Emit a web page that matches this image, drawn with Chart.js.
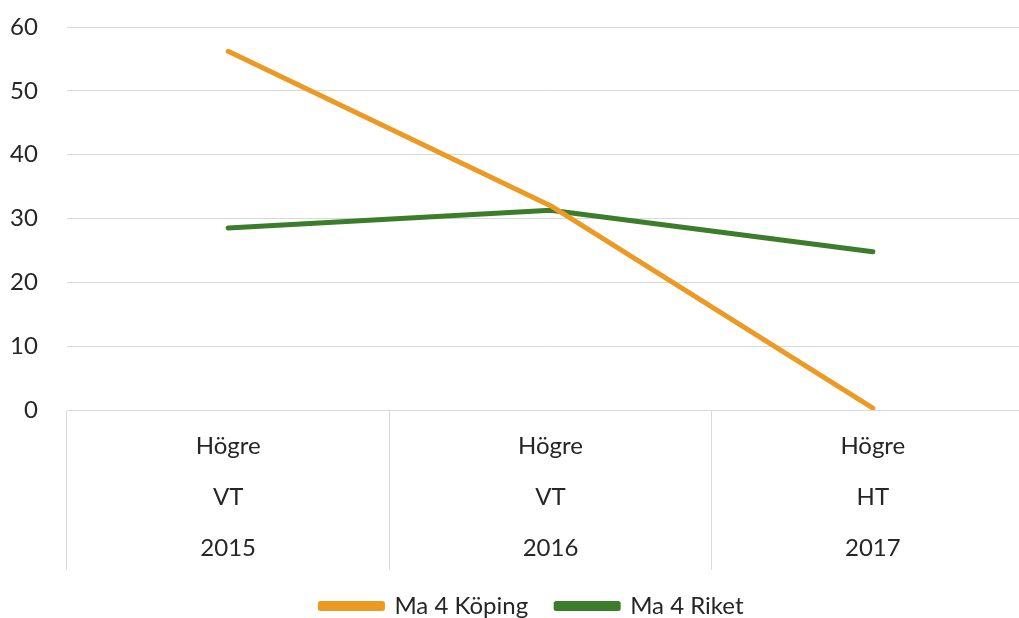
<!DOCTYPE html>
<html>
<head>
<meta charset="utf-8">
<script src="https://cdn.jsdelivr.net/npm/chart.js@4/dist/chart.umd.min.js"></script>
<style>
  html, body { margin: 0; padding: 0; background: #fff; overflow: hidden; }
  #wrap { width: 1062px; height: 628px; position: relative; }
</style>
</head>
<body>
<div id="wrap"><canvas id="c"></canvas></div>
<script>
const categories = [["Högre", "VT", "2015"], ["Högre", "VT", "2016"], ["Högre", "HT", "2017"]];
const seriesNames = ["Ma 4 Köping", "Ma 4 Riket"];
const kopingValues = [56.2, 32.0, 0.3];
const riketValues = [28.5, 31.3, 24.8];
const yTicks = [0, 10, 20, 30, 40, 50, 60];

const FONT = "Lato, 'Open Sans', sans-serif";
const TEXT = "#262626";
const GRID = "#d9d9d9";

new Chart(document.getElementById('c'), {
  type: 'line',
  data: {
    labels: categories,
    datasets: [
      { label: seriesNames[0], data: kopingValues, borderColor: '#ED9A25', backgroundColor: '#ED9A25',
        borderWidth: 5, pointRadius: 0, tension: 0, borderCapStyle: 'round', borderJoinStyle: 'round' },
      { label: seriesNames[1], data: riketValues, borderColor: '#3C7D2B', backgroundColor: '#3C7D2B',
        borderWidth: 5, pointRadius: 0, tension: 0, borderCapStyle: 'round', borderJoinStyle: 'round' }
    ]
  },
  options: {
    responsive: true,
    maintainAspectRatio: false,
    animation: false,
    layout: { padding: { top: 27, right: 28, left: 30, bottom: 0 } },
    plugins: {
      tooltip: { enabled: false },
      legend: {
        position: 'bottom',
        labels: {
          font: { family: FONT, size: 24 },
          color: TEXT,
          boxWidth: 62,
          boxHeight: 5,
          padding: 28
        }
      }
    },
    scales: {
      x: {
        offset: true,
        grid: { offset: true, drawOnChartArea: false, drawTicks: true, tickLength: 160, color: GRID, lineWidth: 1 },
        border: { display: true, color: GRID },
        ticks: { font: { family: FONT, size: 24, lineHeight: 2.125 }, color: TEXT, padding: -149.5, maxRotation: 0 },
        afterFit: s => { s.height = 156; }
      },
      y: {
        min: 0, max: 60,
        afterBuildTicks: s => { s.ticks = yTicks.map(v => ({ value: v })); },
        grid: { color: GRID, lineWidth: 1, drawTicks: false },
        border: { display: false },
        ticks: { font: { family: FONT, size: 24 }, color: TEXT, mirror: true, crossAlign: 'far', padding: -57 },
        afterFit: s => { s.width = 37; s.paddingTop = 0; s.paddingBottom = 0; }
      }
    }
  }
});
</script>
</body>
</html>
